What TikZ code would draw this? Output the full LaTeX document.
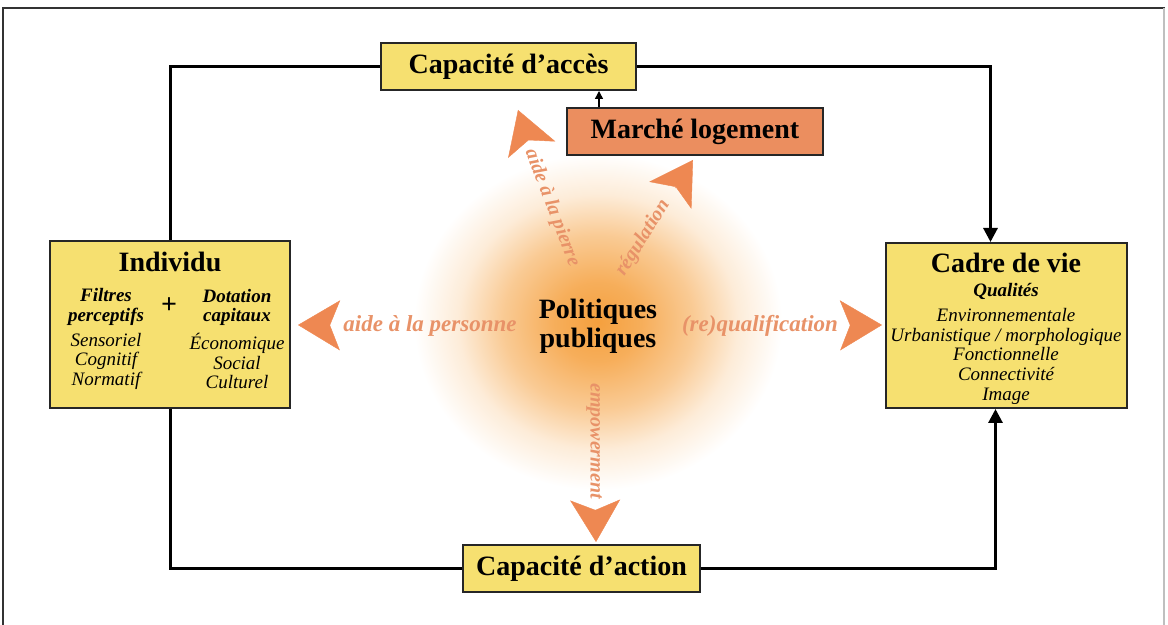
\documentclass[tikz,border=0pt]{standalone}
\usepackage{fontspec}
\setmainfont{Liberation Serif}
\usepackage{tikz}
\usepackage{xcolor}
\usetikzlibrary{shapes,arrows.meta,positioning,calc}

\definecolor{boxyellow}{RGB}{246,224,112}
\definecolor{boxorange}{RGB}{235,142,95}
\definecolor{orhead}{RGB}{238,136,82}
\definecolor{ortext}{RGB}{232,146,104}
\definecolor{glowc}{RGB}{245,160,62}
\pgfdeclareradialshading{glow}{\pgfpointorigin}{color(0bp)=(glowc); color(6bp)=(glowc!85!white); color(13bp)=(glowc!55!white); color(19bp)=(glowc!20!white); color(25bp)=(white); color(50bp)=(white)}

\begin{document}
\begin{tikzpicture}[
    x=0.5pt, y=-0.5pt,
    box/.style={rectangle, draw=black!85, line width=1pt, fill=boxyellow, inner sep=0pt, minimum height=23.5pt},
    title/.style={font=\fontsize{14}{14.5}\selectfont\bfseries, align=center},
    small/.style={font=\fontsize{9.5}{9.9}\selectfont\itshape, align=center},
    loopline/.style={line width=1.5pt, black},
    looparrow/.style={loopline, -{Triangle[length=7pt,width=7pt]}},
    orlabel/.style={font=\fontsize{11.5}{12}\selectfont\bfseries\itshape, text=ortext, inner sep=1pt},
    orlabelsm/.style={orlabel, font=\fontsize{10}{12}\selectfont\bfseries\itshape},
    orarrow/.style={-{Stealth[length=21pt,width=25pt,inset=5pt]}, orhead, line width=0.2pt, shorten <=7pt}
]
\useasboundingbox (0,0) rectangle (1168,625);

% Glow behind the centre
\shade[shading=glow] (598,322) ellipse (92pt and 84pt);

% Frame
\draw[black!80, line width=1pt] (3,625) |- (1165,8);
\draw[black!25, line width=0.6pt] (1164,8) -- (1164,625);

% Boxes
\node[box, minimum width=127.5pt] (acces) at (508.5,66.5) {};
\node[title] (accesT) at (acces) {Capacité d’accès};
\node[box, fill=boxorange, minimum width=128pt] (marche) at (695,131.5) {};
\node[title] (marcheT) at (marche) {Marché logement};
\node[box, minimum width=118.5pt] (action) at (581.5,568.5) {};
\node[title] (actionT) at (action) {Capacité d’action};

% Individu
\node[box, minimum width=120pt, minimum height=83.5pt] (indiv) at (170,324.5) {};
\node[title] (indivT) at (170,262) {Individu};
\node[small] (filtres) at (106,339) {\textbf{Filtres}\\\textbf{perceptifs}\\[2.5pt]Sensoriel\\Cognitif\\Normatif};
\node[font=\fontsize{14}{14}\selectfont\bfseries] (plus) at (169,306) {+};
\node[small] (dotation) at (237,339) {\textbf{Dotation}\\\textbf{capitaux}\\[2.5pt]Économique\\Social\\Culturel};

% Cadre de vie
\node[box, minimum width=120.5pt, minimum height=82.5pt] (cadre) at (1006.5,325.5) {};
\node[title] (cadreT) at (1006,263) {Cadre de vie};
\node[small] (qualites) at (1006,344) {\textbf{Qualités}\\[2.5pt]Environnementale\\Urbanistique / morphologique\\Fonctionnelle\\Connectivité\\Image};

% Politiques publiques
\node[title] (pp) at (598,326) {Politiques\\publiques};

% Orange labels
\node[orlabel] (tpers) at (430,326) {aide à la personne};
\node[orlabel] (tqual) at (760,326) {(re)qualification};
\node[orlabelsm, rotate=-90] (tempo) at (594,441) {empowerment};
\node[orlabelsm, rotate=-69] (tpier) at (552,208) {aide à la pierre};
\node[orlabelsm, rotate=58] (tregu) at (643,238) {régulation};

% Arrow tips
\coordinate (hpers) at (298,325);
\coordinate (hqual) at (882,325);
\coordinate (hempo) at (596,542);
\coordinate (hpier) at (518,110);
\coordinate (hregu) at (693,160);

% Orange arrows
\draw[orarrow] (tpers) -- (hpers);
\draw[orarrow] (tqual) -- (hqual);
\draw[orarrow] (tempo) -- (hempo);
\draw[orarrow] (tpier) -- (hpier);
\draw[orarrow] (tregu) -- (hregu);

% Loop
\draw[loopline] (indiv.north) |- (acces.west);
\draw[looparrow] (acces.east) -| ([xshift=-8pt]cadre.north);
\draw[loopline] (indiv.south) |- (action.west);
\draw[looparrow] (action.east) -| ([xshift=-5.5pt]cadre.south);
\draw[line width=0.7pt, -{Triangle[length=4pt,width=4pt]}] ([xshift=-48pt]marche.north) -- ([xshift=-48pt]marche.north |- acces.south);

\end{tikzpicture}
\end{document}
